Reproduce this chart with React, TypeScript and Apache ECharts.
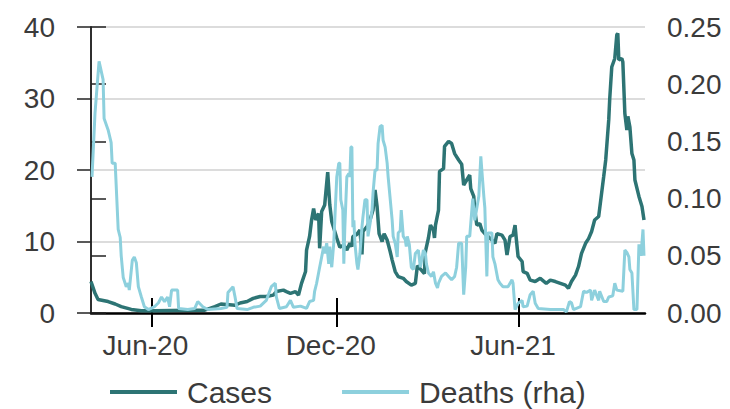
import React, { useEffect, useRef } from 'react';
import * as echarts from 'echarts';

// x values are days since 1 May 2020
const casesDay = [0,4,7,17,24,30,40,50,63,96,113,123,129,143,148,155,161,168,174,181,184,191,194,198,203,206,209,213,214,217,219,221,223,226,227,229,232,235,237,239,244,247,251,254,257,259,260,264,267,269,270,274,277,280,282,284,286,289,291,294,297,299,302,305,310,313,318,322,324,328,331,332,335,337,340,341,342,345,346,350,351,355,358,361,365,368,370,373,376,377,380,381,383,386,388,391,398,401,403,408,411,413,416,419,421,422,424,428,429,433,436,441,446,452,456,461,466,471,474,477,481,484,487,491,494,497,500,504,505,509,511,514,515,517,520,522,523,524,527,528,530,532,533,535,537,539,540,544,547,549];
const casesValue = [4.4,2.75,1.9,1.6,1.26,0.9,0.5,0.3,0.3,0.4,0.4,0.9,1.26,1.1,1.4,1.6,2.05,2.3,2.3,2.5,3.0,3.2,3.0,2.75,3.0,2.5,4.15,5.8,8.8,10.7,13.0,14.6,13.0,13.9,9.05,14.2,15.1,19.7,15.2,12.8,10.5,9.2,9.5,8.8,9.75,9.3,10.7,11.0,11.6,8.2,11.4,12.1,13.0,14.4,17.2,14.9,11.1,10.0,11.1,10.2,8.6,7.4,5.8,5.1,4.85,4.4,3.9,4.15,6.6,6.0,5.5,8.6,10.5,12.3,11.6,10.5,12.3,14.4,19.8,20.2,23.3,24.0,23.7,22.3,21.4,20.8,17.9,18.6,19.3,17.4,16.3,14.4,12.3,12.5,11.6,11.1,10.2,9.75,11.1,10.9,10.2,8.1,10.7,10.9,12.3,10.7,7.9,7.2,5.8,5.55,4.6,4.4,4.85,4.15,4.6,4.4,4.15,3.9,3.45,4.4,5.3,6.5,8.35,9.75,10.4,11.4,13.0,13.5,14.6,19.1,21.4,27.0,30.0,34.4,35.6,38.9,39.1,35.4,35.6,35.1,27.9,25.6,27.5,26.0,22.3,21.4,18.6,16.3,14.9,13.0];

const deathsDay = [1,4,8,12,13,17,20,21,24,27,29,30,32,35,37,38,41,43,45,47,50,53,57,63,67,70,73,76,78,80,86,87,96,103,106,111,116,129,135,136,141,143,145,155,161,168,174,179,183,184,187,194,198,201,208,214,217,221,222,224,227,229,231,232,234,236,237,239,241,242,244,246,247,248,250,251,252,254,256,257,258,259,260,261,262,264,265,267,269,270,272,274,275,277,279,280,282,284,285,287,289,290,292,294,295,297,299,300,302,304,305,307,308,310,312,313,314,316,318,320,322,325,327,330,332,333,335,338,340,342,344,345,348,352,355,358,361,363,365,368,370,372,373,376,379,381,385,387,388,390,391,393,394,398,399,401,404,406,409,414,418,419,421,424,428,429,433,436,439,441,444,456,469,472,475,477,479,486,489,492,496,497,500,504,505,509,512,514,518,520,522,528,530,532,534,535,537,539,542,544,546,548,549];
const deathsValue = [0.119,0.175,0.220,0.204,0.170,0.160,0.149,0.131,0.131,0.073,0.066,0.050,0.031,0.023,0.026,0.020,0.046,0.049,0.044,0.023,0.014,0.0055,0.003,0.0055,0.009,0.014,0.010,0.014,0.0055,0.020,0.020,0.004,0.003,0.004,0.010,0.0055,0.003,0.004,0.005,0.018,0.023,0.014,0.004,0.003,0.005,0.006,0.011,0.023,0.026,0.014,0.004,0.0055,0.011,0.005,0.006,0.004,0.010,0.011,0.019,0.026,0.040,0.049,0.058,0.052,0.061,0.043,0.058,0.040,0.061,0.081,0.119,0.131,0.131,0.099,0.090,0.043,0.075,0.119,0.122,0.119,0.145,0.145,0.075,0.081,0.061,0.043,0.038,0.052,0.075,0.084,0.099,0.099,0.067,0.078,0.090,0.105,0.125,0.125,0.148,0.163,0.164,0.151,0.145,0.131,0.119,0.100,0.081,0.067,0.061,0.049,0.070,0.072,0.090,0.067,0.064,0.058,0.067,0.060,0.040,0.038,0.052,0.055,0.040,0.055,0.052,0.043,0.035,0.032,0.036,0.026,0.022,0.026,0.032,0.035,0.032,0.029,0.032,0.040,0.061,0.061,0.016,0.040,0.067,0.067,0.100,0.081,0.102,0.137,0.125,0.102,0.092,0.032,0.070,0.070,0.049,0.043,0.029,0.026,0.023,0.023,0.029,0.026,0.003,0.0085,0.011,0.0055,0.006,0.016,0.019,0.0085,0.004,0.003,0.003,0.001,0.010,0.009,0.003,0.0055,0.019,0.018,0.020,0.011,0.020,0.011,0.019,0.010,0.010,0.014,0.015,0.026,0.020,0.019,0.055,0.053,0.049,0.038,0.035,0.003,0.003,0.060,0.050,0.073,0.050];

const tickDays = [60, 244, 425];
const tickLabels = ['Jun-20', 'Dec-20', 'Jun-21'];
const seriesNames = ['Cases', 'Deaths (rha)'];

export default function App() {
  const ref = useRef<HTMLDivElement>(null);
  useEffect(() => {
    const chart = echarts.init(ref.current!, null, { renderer: 'svg' });
    const font = "'Liberation Sans', Arial, sans-serif";
    const labelColor = '#3b3b3b';
    const casesColor = '#2d7474';
    const deathsColor = '#8dd0dd';
    const casesData = casesDay.map((d, i) => [d, casesValue[i]]);
    const deathsData = deathsDay.map((d, i) => [d, deathsValue[i]]);
    chart.setOption({
      animation: false,
      grid: { left: 91, right: 85, top: 27, bottom: 96, containLabel: false },
      legend: {
        left: 110,
        top: 377,
        padding: 0,
        icon: 'rect',
        itemWidth: 67,
        itemHeight: 4,
        itemGap: 70,
        textStyle: { fontFamily: font, fontSize: 30, lineHeight: 30, color: labelColor, padding: [0, 0, 0, 5] },
        data: seriesNames,
      },
      xAxis: [
        {
          type: 'value',
          min: 0,
          max: 550,
          axisLine: { show: true, onZero: false, lineStyle: { color: '#000', width: 2.5 } },
          axisTick: { show: true, customValues: tickDays, length: 14, lineStyle: { color: '#000', width: 2 } },
          axisLabel: {
            customValues: tickDays,
            formatter: (v: number) => {
              const i = tickDays.indexOf(Math.round(v));
              return i >= 0 ? tickLabels[i] : '';
            },
            fontFamily: font,
            fontSize: 28,
            color: labelColor,
            margin: 18,
            padding: [0, 12, 0, 0],
          },
          splitLine: { show: false },
        },
        {
          type: 'value',
          min: 0,
          max: 550,
          position: 'bottom',
          axisLine: { show: false, onZero: false },
          axisTick: { show: true, inside: true, customValues: tickDays, length: 15, lineStyle: { color: '#000', width: 2 } },
          axisLabel: { show: false },
          splitLine: { show: false },
        },
      ],
      yAxis: [
        {
          type: 'value',
          min: 0,
          max: 40,
          interval: 10,
          position: 'left',
          axisLine: { show: true, lineStyle: { color: '#222', width: 1.5 } },
          axisTick: { show: true, length: 14, lineStyle: { color: '#222', width: 1.5 } },
          axisLabel: { fontFamily: font, fontSize: 28, color: labelColor, margin: 36 },
          splitLine: { show: true, lineStyle: { color: '#dcdcdc', width: 2 } },
        },
        {
          type: 'value',
          min: 0,
          max: 0.25,
          interval: 0.05,
          position: 'right',
          axisLine: { show: true, lineStyle: { color: '#222', width: 1.5 } },
          axisTick: { show: true, length: 15, lineStyle: { color: '#222', width: 1.5 } },
          axisLabel: {
            fontFamily: font,
            fontSize: 28,
            color: labelColor,
            margin: 22,
            formatter: (v: number) => v.toFixed(2),
          },
          splitLine: { show: false },
        },
      ],
      series: [
        {
          name: seriesNames[0],
          type: 'line',
          xAxisIndex: 0,
          yAxisIndex: 0,
          data: casesData,
          symbol: 'none',
          lineStyle: { color: casesColor, width: 3.5 },
          itemStyle: { color: casesColor },
        },
        {
          name: seriesNames[1],
          type: 'line',
          xAxisIndex: 0,
          yAxisIndex: 1,
          data: deathsData,
          symbol: 'none',
          lineStyle: { color: deathsColor, width: 3 },
          itemStyle: { color: deathsColor },
        },
      ],
    });
    return () => chart.dispose();
  }, []);
  return (
    <div
      ref={ref}
      style={{ position: 'fixed', left: 0, top: 0, width: 730, height: 409, background: '#fff' }}
    />
  );
}
